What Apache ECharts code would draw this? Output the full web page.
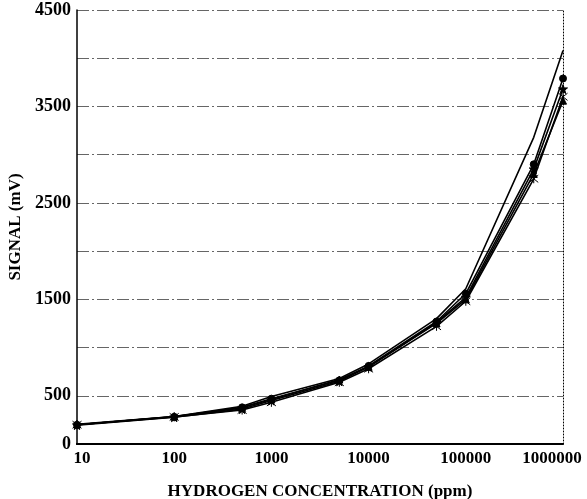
<!DOCTYPE html>
<html>
<head>
<meta charset="utf-8">
<script src="https://cdn.jsdelivr.net/npm/echarts@6/dist/echarts.min.js"></script>
<style>html,body{margin:0;padding:0;background:#fff}#c{width:587px;height:499px}</style>
</head>
<body>
<div id="c"></div>
<script>
const concentrations = [10, 100, 500, 1000, 5000, 10000, 50000, 100000, 500000, 1000000];
const sensorA = [200, 282, 380, 470, 660, 810, 1270, 1560, 2900, 3790];
const sensorB = [200, 285, 392, 492, 680, 830, 1300, 1610, 3180, 4080];
const sensorC = [196, 278, 362, 450, 650, 800, 1260, 1520, 2850, 3680];
const sensorD = [200, 281, 352, 432, 640, 780, 1220, 1480, 2750, 3600];
const sensorE = [204, 285, 375, 462, 668, 800, 1250, 1500, 2800, 3560];
const yLabels = [0, 500, 1500, 2500, 3500, 4500];
const xLabels = [10, 100, 1000, 10000, 100000, 1000000];

const seriesDefs = [
  {name: 'A', data: sensorA, symbol: 'circle', size: 7},
  {name: 'B', data: sensorB, symbol: 'none', size: 0},
  {name: 'C', data: sensorC, symbol: 'path://M0,-10L2.5,-3L10,-3L4,1.5L6,9L0,4.5L-6,9L-4,1.5L-10,-3L-2.5,-3Z', size: 9},
  {name: 'D', data: sensorD, symbol: 'path://M-10,-8L10,8M-10,8L10,-8M0,-10L0,10', size: 9},
  {name: 'E', data: sensorE, symbol: 'triangle', size: 7}
];

const font = '"Liberation Serif","Times New Roman",serif';
const chart = echarts.init(document.getElementById('c'), null, {renderer: 'canvas'});
chart.setOption({
  animation: false,
  backgroundColor: '#fff',
  grid: {left: 77, right: 24, top: 10, bottom: 55, containLabel: false, outerBoundsMode: 'none'},
  xAxis: [{
    type: 'log', logBase: 10, min: 10, max: 1000000,
    name: 'HYDROGEN CONCENTRATION (ppm)', nameLocation: 'middle', nameGap: 39,
    nameTextStyle: {fontFamily: font, fontWeight: 'bold', fontSize: 17, color: '#000'},
    axisLine: {lineStyle: {color: '#000', width: 2, type: [1, 1]}},
    axisTick: {show: false},
    minorTick: {show: false},
    splitLine: {show: false},
    axisLabel: {fontFamily: font, fontWeight: 'bold', fontSize: 17, color: '#000', margin: 6,
      formatter: v => {
        const r = Math.round(v);
        if (!xLabels.includes(r)) return '';
        if (r === 10) return '{f|' + r + '}';
        if (r === 1000000) return '{l|' + r + '}';
        return String(r);
      },
      rich: {
        f: {fontFamily: font, fontWeight: 'bold', fontSize: 17, color: '#000', padding: [0, 0, 0, 10]},
        l: {fontFamily: font, fontWeight: 'bold', fontSize: 17, color: '#000', padding: [0, 22, 0, 0]}
      }}
  }, {
    type: 'value', position: 'top', min: 0, max: 1,
    axisLine: {show: true, lineStyle: {color: '#000', width: 2}},
    axisTick: {show: false}, axisLabel: {show: false}, splitLine: {show: false}
  }],
  yAxis: [{
    type: 'value', min: 0, max: 4500, interval: 500,
    name: 'SIGNAL (mV)', nameLocation: 'middle', nameGap: 52, nameRotate: 90,
    nameTextStyle: {fontFamily: font, fontWeight: 'bold', fontSize: 17, color: '#000'},
    axisLine: {show: true, lineStyle: {color: '#000', width: 1.5}},
    axisTick: {show: false},
    splitLine: {show: true, lineStyle: {color: '#666', width: 1, type: [12, 3, 2, 3]}},
    axisLabel: {fontFamily: font, fontWeight: 'bold', fontSize: 18, color: '#000', margin: 6,
      formatter: v => yLabels.includes(v) ? String(v) : ''}
  }, {
    type: 'value', position: 'right', min: 0, max: 4500,
    axisLine: {show: true, lineStyle: {color: '#000', width: 1, type: [1, 2]}},
    axisTick: {show: false}, axisLabel: {show: false}, splitLine: {show: false}
  }],
  series: seriesDefs.map(s => ({
    name: s.name, type: 'line',
    data: concentrations.map((c, i) => [c, s.data[i]]),
    symbol: s.symbol, symbolSize: s.size, showSymbol: s.symbol !== 'none',
    lineStyle: {color: '#000', width: 1.6},
    itemStyle: {color: '#000', borderColor: '#000'}
  }))
});
</script>
</body>
</html>
